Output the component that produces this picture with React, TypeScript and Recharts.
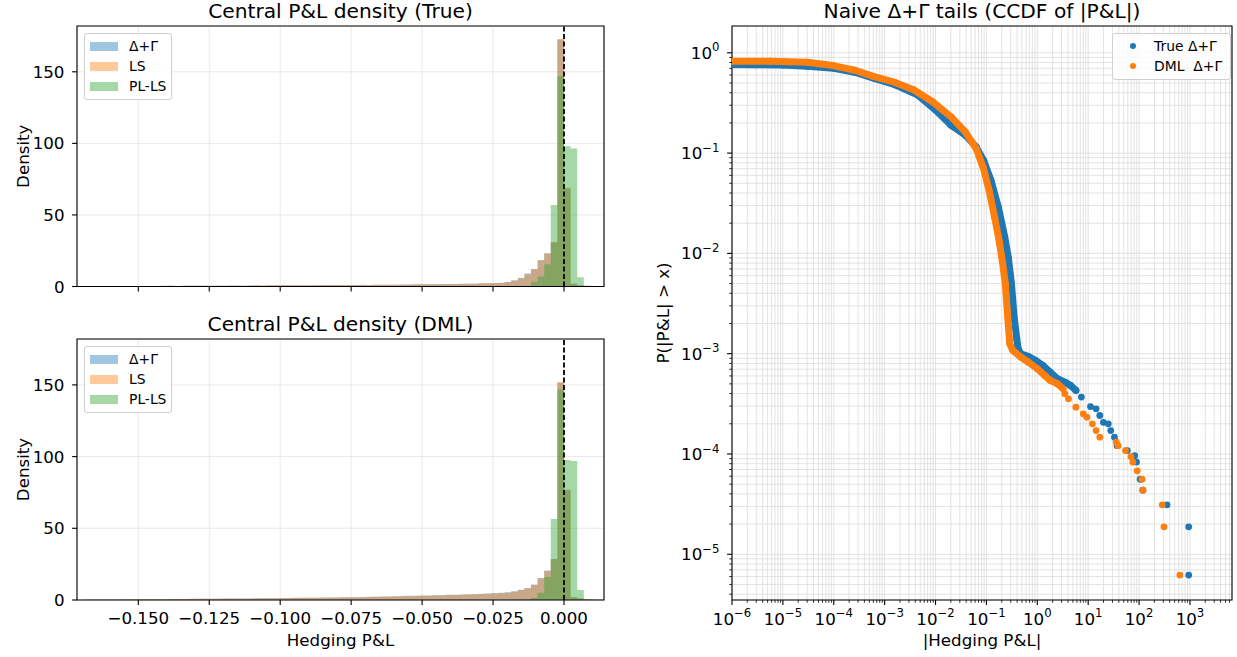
import React from "react";
import {
  Area,
  AreaChart,
  CartesianGrid,
  ReferenceArea,
  ReferenceLine,
  Scatter,
  ScatterChart,
  XAxis,
  YAxis,
} from "recharts";

const FONT = "'DejaVu Sans', 'Liberation Sans', sans-serif";
const BLUE = "#1f77b4";
const ORANGE = "#ff7f0e";
const GREEN = "#2ca02c";
const HIST_ALPHA = 0.42;

// histogram bins: bin k covers [k * BIN_W, (k + 1) * BIN_W]
const BIN_W = 0.002326;
const FIRST_BIN = -73;
const PLLS_FIRST_BIN = -8;

// densities, bins k = -73 .. 5
const TRUE_DG = [
  0.2, 0.2, 0.3, 0.3, 0.3, 0.3, 0.3, 0.4, 0.4, 0.3,
  0.4, 0.4, 0.5, 0.5, 0.4, 0.5, 0.5, 0.6, 0.6, 0.5,
  0.6, 0.6, 0.7, 0.7, 0.6, 0.7, 0.8, 0.7, 0.8, 0.8,
  0.8, 0.9, 0.9, 0.8, 0.9, 1.0, 1.0, 1.0, 1.0, 1.1,
  1.1, 1.1, 1.2, 1.1, 1.2, 1.3, 1.2, 1.3, 1.4, 1.4,
  1.5, 1.5, 1.6, 1.6, 1.7, 1.7, 1.8, 1.9, 1.9, 2.0,
  2.2, 2.2, 2.4,
  2.6, 3.2, 4.3, 5.9, 9.0, 12.3, 18.6, 23.2, 31.0, 172.5,
  68.5, 2.0, 0.9, 0.5, 0.3, 0.2,
];
const TRUE_LS = [
  0.2, 0.2, 0.3, 0.3, 0.2, 0.3, 0.3, 0.3, 0.4, 0.3,
  0.4, 0.4, 0.4, 0.5, 0.4, 0.5, 0.5, 0.5, 0.6, 0.5,
  0.6, 0.6, 0.6, 0.7, 0.6, 0.7, 0.7, 0.7, 0.8, 0.8,
  0.8, 0.8, 0.9, 0.8, 0.9, 0.9, 1.0, 0.9, 1.0, 1.0,
  1.0, 1.1, 1.1, 1.1, 1.2, 1.2, 1.2, 1.3, 1.3, 1.4,
  1.4, 1.5, 1.5, 1.6, 1.6, 1.7, 1.8, 1.8, 1.9, 2.0,
  2.1, 2.2, 2.3,
  2.5, 3.1, 4.0, 5.7, 8.5, 12.0, 18.0, 23.0, 31.0, 173.0,
  69.0, 2.0, 0.9, 0.5, 0.3, 0.2,
];
// PL-LS, bins k = -8 .. 5
const TRUE_PLLS = [0, 0, 0.5, 3.4, 6.9, 15.5, 57.0, 147.0, 98.0, 96.5, 6.4, 0.3, 0, 0];

const DML_DG = [
  0.2, 0.3, 0.3, 0.4, 0.4, 0.4, 0.5, 0.5, 0.5, 0.5,
  0.6, 0.6, 0.6, 0.7, 0.7, 0.7, 0.8, 0.8, 0.8, 0.9,
  0.9, 1.0, 1.0, 1.0, 1.1, 1.1, 1.2, 1.2, 1.3, 1.3,
  1.4, 1.4, 1.5, 1.5, 1.6, 1.6, 1.7, 1.8, 1.8, 1.9,
  2.0, 2.0, 2.1, 2.2, 2.3, 2.4, 2.5, 2.6, 2.8, 2.9,
  3.0, 3.1, 3.2, 3.3, 3.5, 3.6, 3.7, 3.9, 4.0, 4.2,
  4.4, 4.5, 4.8,
  5.0, 5.4, 6.1, 7.2, 8.4, 10.8, 15.3, 20.5, 28.6, 151.5,
  76.5, 2.0, 1.0, 0.5, 0.3, 0.2,
];
const DML_LS = [
  0.2, 0.3, 0.3, 0.3, 0.4, 0.4, 0.4, 0.5, 0.5, 0.5,
  0.5, 0.6, 0.6, 0.6, 0.7, 0.7, 0.7, 0.8, 0.8, 0.8,
  0.9, 0.9, 1.0, 1.0, 1.0, 1.1, 1.1, 1.2, 1.2, 1.3,
  1.3, 1.4, 1.4, 1.5, 1.5, 1.6, 1.6, 1.7, 1.8, 1.8,
  1.9, 2.0, 2.0, 2.1, 2.2, 2.3, 2.4, 2.5, 2.6, 2.7,
  2.8, 2.9, 3.0, 3.1, 3.2, 3.3, 3.5, 3.6, 3.8, 4.0,
  4.1, 4.3, 4.5,
  4.7, 5.1, 5.8, 7.0, 8.1, 10.5, 15.1, 20.2, 28.4, 152.0,
  77.0, 2.0, 1.0, 0.5, 0.3, 0.2,
];
const DML_PLLS = [0, 0, 0.3, 1.5, 5.0, 16.0, 56.4, 146.8, 97.6, 97.0, 7.0, 0.3, 0, 0];

const HIST_X_DOMAIN: [number, number] = [-0.1716, 0.0141];
const HIST_Y_DOMAIN: [number, number] = [0, 182];
const HIST_X_TICKS = [-0.15, -0.125, -0.1, -0.075, -0.05, -0.025, 0];
const HIST_Y_TICKS = [0, 50, 100, 150];

// CCDF of |P&L| : dense part (drawn as a thick band) and sparse tail points
const TRUE_DENSE_X = [
  1e-6, 3e-6, 1e-5, 3e-5, 1e-4, 2.6e-4, 6e-4, 1.6e-3, 4.4e-3, 0.01, 0.02, 0.0385,
  0.063, 0.088, 0.123, 0.172, 0.23, 0.27, 0.31, 0.35, 0.395, 0.42, 0.47, 0.66,
  0.92, 1.28, 1.79, 2.5, 3.48, 4.47, 5.73,
];
const TRUE_DENSE_Y = [
  0.764, 0.76, 0.755, 0.735, 0.7, 0.64, 0.56, 0.48, 0.381, 0.269, 0.19, 0.151,
  0.115, 0.0847, 0.0533, 0.0288, 0.0144, 0.009, 0.005, 0.00233, 0.0014, 0.00112, 0.001, 0.00094,
  0.000858, 0.000764, 0.000656, 0.000562, 0.000521, 0.000483, 0.00043,
];
const DML_DENSE_X = [
  1e-6, 5.7e-6, 3e-5, 9.7e-5, 2.6e-4, 6e-4, 1.6e-3, 3.7e-3, 8.6e-3, 0.02, 0.0385,
  0.063, 0.088, 0.113, 0.145, 0.178, 0.205, 0.235, 0.262, 0.287, 0.328, 0.473,
  0.66, 1.0, 1.39, 1.79, 2.5, 3.2,
];
const DML_DENSE_Y = [
  0.824, 0.824, 0.806, 0.746, 0.67, 0.582, 0.507, 0.428, 0.327, 0.231, 0.163,
  0.111, 0.0698, 0.0423, 0.0229, 0.0133, 0.0084, 0.005, 0.00233, 0.00126, 0.00108, 0.000926,
  0.000826, 0.000708, 0.000607, 0.000541, 0.0005, 0.000447,
];
const TRUE_TAIL_X = [7.35, 11.1, 14.3, 16.9, 19.9, 24.8, 27.8, 32.8, 36.9, 58.7, 81.9, 89, 105, 118, 354, 944, 944];
const TRUE_TAIL_Y = [
  3.69e-4, 2.97e-4, 2.82e-4, 2.42e-4, 2.07e-4, 2.0e-4, 1.71e-4, 1.47e-4, 1.21e-4,
  1.08e-4, 9.6e-5, 8.3e-5, 5.6e-5, 4.36e-5, 3.11e-5, 1.88e-5, 6.2e-6,
];
const DML_TAIL_X = [3.48, 4.1, 5.73, 8.0, 9.44, 12.1, 14.3, 16.9, 35.7, 38.8, 54, 69.4, 75.4, 92, 114, 120, 285, 309, 633];
const DML_TAIL_Y = [
  3.98e-4, 3.55e-4, 2.93e-4, 2.51e-4, 2.33e-4, 2.0e-4, 1.71e-4, 1.47e-4, 1.31e-4, 1.21e-4,
  1.08e-4, 9.4e-5, 8.3e-5, 6.8e-5, 5.6e-5, 4.36e-5, 3.11e-5, 1.88e-5, 6.2e-6,
];

const X_DECADES = [-6, -5, -4, -3, -2, -1, 0, 1, 2, 3];
const Y_DECADES = [-6, -5, -4, -3, -2, -1, 0];
const MINOR_STEPS = [1, 2, 3, 4, 5, 6, 7, 8, 9];
const LOG_X_DOMAIN: [number, number] = [1e-6, 6700];
const LOG_Y_DOMAIN: [number, number] = [3.5e-6, 1.85];

const logTicks = (decades: number[], [lo, hi]: [number, number]) =>
  decades
    .flatMap((d) => MINOR_STEPS.map((m) => m * Math.pow(10, d)))
    .filter((v) => v >= lo * 0.999 && v <= hi);

const zip = (xs: number[], ys: number[]) => xs.map((x, i) => ({ x, y: ys[i] }));

function buildHist(dg: number[], ls: number[], pl: number[]) {
  const rows = dg.map((_, i) => {
    const k = FIRST_BIN + i;
    return { x: k * BIN_W, dg: dg[i], ls: ls[i], pl: pl[k - PLLS_FIRST_BIN] ?? 0 };
  });
  const last = rows[rows.length - 1];
  rows.push({ ...last, x: (FIRST_BIN + dg.length) * BIN_W });
  return rows;
}

const isDecade = (v: number) => Math.abs(Math.log10(v) - Math.round(Math.log10(v))) < 1e-6;
const expText = (v: number) => {
  const e = Math.round(Math.log10(v));
  return e < 0 ? `\u2212${-e}` : `${e}`;
};

const TICK_FS = 16.7;
const SUP_FS = 11.7;
const LABEL_FS = 16.7;
const TITLE_FS = 20.2;
const LEGEND_FS = 13.9;
const MAJOR_LEN = 4.9;
const MINOR_LEN = 2.8;
const X_LABEL_DY = 23.5;
const Y_LABEL_DX = 12.5;

function HistXTick(props: any) {
  const { x, y, payload, showLabel } = props;
  const label = payload.value.toFixed(3).replace("-", "\u2212");
  return (
    <g>
      <line x1={x} x2={x} y1={y} y2={y + MAJOR_LEN} stroke="#000" strokeWidth={1.1} />
      {showLabel && (
        <text x={x} y={y + X_LABEL_DY} textAnchor="middle" fontSize={TICK_FS} fontFamily={FONT} fill="#000">
          {label}
        </text>
      )}
    </g>
  );
}

function HistYTick(props: any) {
  const { x, y, payload } = props;
  return (
    <g>
      <line x1={x - MAJOR_LEN} x2={x} y1={y} y2={y} stroke="#000" strokeWidth={1.1} />
      <text x={x - Y_LABEL_DX} y={y + 6.1} textAnchor="end" fontSize={TICK_FS} fontFamily={FONT} fill="#000">
        {String(payload.value)}
      </text>
    </g>
  );
}

function LogXTick(props: any) {
  const { x, y, payload } = props;
  const major = isDecade(payload.value);
  return (
    <g>
      <line x1={x} x2={x} y1={y} y2={y + (major ? MAJOR_LEN : MINOR_LEN)} stroke="#000" strokeWidth={major ? 1.1 : 0.8} />
      {major && (
        <text x={x} y={y + X_LABEL_DY + 1} textAnchor="middle" fontSize={TICK_FS} fontFamily={FONT} fill="#000">
          10
          <tspan dy={-7.5} fontSize={SUP_FS}>
            {expText(payload.value)}
          </tspan>
        </text>
      )}
    </g>
  );
}

function LogYTick(props: any) {
  const { x, y, payload } = props;
  const major = isDecade(payload.value);
  return (
    <g>
      <line x1={x - (major ? MAJOR_LEN : MINOR_LEN)} x2={x} y1={y} y2={y} stroke="#000" strokeWidth={major ? 1.1 : 0.8} />
      {major && (
        <text x={x - Y_LABEL_DX} y={y + 6.1} textAnchor="end" fontSize={TICK_FS} fontFamily={FONT} fill="#000">
          10
          <tspan dy={-7.5} fontSize={SUP_FS}>
            {expText(payload.value)}
          </tspan>
        </text>
      )}
    </g>
  );
}

function HistPanel({ rows, showXLabels, height, bottom }: { rows: any[]; showXLabels: boolean; height: number; bottom: number }) {
  return (
    <AreaChart width={620} height={height} data={rows} margin={{ top: 26, right: 16, bottom, left: 0 }}>
      <CartesianGrid stroke="#e3e3e3" strokeWidth={0.8} />
      <XAxis
        dataKey="x"
        type="number"
        domain={HIST_X_DOMAIN}
        allowDataOverflow
        ticks={HIST_X_TICKS}
        interval={0}
        height={30}
        tickSize={0}
        tickMargin={0}
        tickLine={false}
        axisLine={false}
        tick={(p: any) => <HistXTick {...p} showLabel={showXLabels} />}
      />
      <YAxis
        type="number"
        domain={HIST_Y_DOMAIN}
        allowDataOverflow
        ticks={HIST_Y_TICKS}
        interval={0}
        width={77}
        tickSize={0}
        tickMargin={0}
        tickLine={false}
        axisLine={false}
        tick={(p: any) => <HistYTick {...p} />}
      />
      <Area type="stepAfter" dataKey="dg" fill={BLUE} fillOpacity={HIST_ALPHA} stroke="none" dot={false} activeDot={false} isAnimationActive={false} />
      <Area type="stepAfter" dataKey="ls" fill={ORANGE} fillOpacity={HIST_ALPHA} stroke="none" dot={false} activeDot={false} isAnimationActive={false} />
      <Area type="stepAfter" dataKey="pl" fill={GREEN} fillOpacity={HIST_ALPHA} stroke="none" dot={false} activeDot={false} isAnimationActive={false} />
      <ReferenceLine x={0} stroke="#000" strokeWidth={1.8} strokeDasharray="5 2.5" />
      <ReferenceArea
        x1={HIST_X_DOMAIN[0]}
        x2={HIST_X_DOMAIN[1]}
        y1={HIST_Y_DOMAIN[0]}
        y2={HIST_Y_DOMAIN[1]}
        ifOverflow="visible"
        fill="none"
        fillOpacity={0}
        stroke="#000"
        strokeOpacity={1}
        strokeWidth={1.1}
      />
    </AreaChart>
  );
}

const dot = (color: string) => (p: any) => <circle cx={p.cx} cy={p.cy} r={3.4} fill={color} />;

function TailPanel() {
  const xTicks = logTicks(X_DECADES, LOG_X_DOMAIN);
  const yTicks = logTicks(Y_DECADES, LOG_Y_DOMAIN);
  return (
    <ScatterChart width={597} height={640} margin={{ top: 26, right: 5, bottom: 10, left: 0 }}>
      <CartesianGrid stroke="#dcdcdc" strokeWidth={0.8} />
      <XAxis
        dataKey="x"
        type="number"
        scale="log"
        domain={LOG_X_DOMAIN}
        allowDataOverflow
        ticks={xTicks}
        interval={0}
        height={30}
        tickSize={0}
        tickMargin={0}
        tickLine={false}
        axisLine={false}
        tick={(p: any) => <LogXTick {...p} />}
      />
      <YAxis
        dataKey="y"
        type="number"
        scale="log"
        domain={LOG_Y_DOMAIN}
        allowDataOverflow
        ticks={yTicks}
        interval={0}
        width={92}
        tickSize={0}
        tickMargin={0}
        tickLine={false}
        axisLine={false}
        tick={(p: any) => <LogYTick {...p} />}
      />
      <Scatter
        data={zip(TRUE_DENSE_X, TRUE_DENSE_Y)}
        fill={BLUE}
        line={{ stroke: BLUE, strokeWidth: 7, strokeLinejoin: "round", strokeLinecap: "round" }}
        lineJointType="linear"
        shape={dot(BLUE)}
        isAnimationActive={false}
      />
      <Scatter data={zip(TRUE_TAIL_X, TRUE_TAIL_Y)} fill={BLUE} shape={dot(BLUE)} isAnimationActive={false} />
      <Scatter
        data={zip(DML_DENSE_X, DML_DENSE_Y)}
        fill={ORANGE}
        line={{ stroke: ORANGE, strokeWidth: 7, strokeLinejoin: "round", strokeLinecap: "round" }}
        lineJointType="linear"
        shape={dot(ORANGE)}
        isAnimationActive={false}
      />
      <Scatter data={zip(DML_TAIL_X, DML_TAIL_Y)} fill={ORANGE} shape={dot(ORANGE)} isAnimationActive={false} />
      <ReferenceArea
        x1={LOG_X_DOMAIN[0]}
        x2={LOG_X_DOMAIN[1]}
        y1={LOG_Y_DOMAIN[0]}
        y2={LOG_Y_DOMAIN[1]}
        ifOverflow="visible"
        fill="none"
        fillOpacity={0}
        stroke="#000"
        strokeOpacity={1}
        strokeWidth={1.1}
      />
    </ScatterChart>
  );
}

const abs = (left: number, top: number): React.CSSProperties => ({ position: "absolute", left, top });

// titles and axis labels, placed by baseline
function Texts() {
  const t = { fontFamily: FONT, fill: "#000" };
  return (
    <svg width={1237} height={657} style={{ ...abs(0, 0), pointerEvents: "none" }}>
      <text {...t} x={340.5} y={17.7} fontSize={TITLE_FS} textAnchor="middle">Central P&amp;L density (True)</text>
      <text {...t} x={340.5} y={330.7} fontSize={TITLE_FS} textAnchor="middle">Central P&amp;L density (DML)</text>
      <text {...t} x={982} y={17.7} fontSize={TITLE_FS} textAnchor="middle" style={{ whiteSpace: "pre" }}>
        {"Naive \u0394+\u0393 tails (CCDF of |P&L|)"}
      </text>
      <text {...t} x={340.5} y={646} fontSize={LABEL_FS} textAnchor="middle">Hedging P&amp;L</text>
      <text {...t} x={982} y={646} fontSize={LABEL_FS} textAnchor="middle">|Hedging P&amp;L|</text>
      <text {...t} transform="translate(28.5,156.25) rotate(-90)" fontSize={LABEL_FS} textAnchor="middle">Density</text>
      <text {...t} transform="translate(28.5,469.5) rotate(-90)" fontSize={LABEL_FS} textAnchor="middle">Density</text>
      <text {...t} transform="translate(668.5,313) rotate(-90)" fontSize={LABEL_FS} textAnchor="middle">P(|P&amp;L| &gt; x)</text>
    </svg>
  );
}

const HIST_LEGEND = [
  { label: "\u0394+\u0393", color: BLUE },
  { label: "LS", color: ORANGE },
  { label: "PL-LS", color: GREEN },
];

function HistLegend({ top }: { top: number }) {
  return (
    <div
      style={{
        ...abs(84, top),
        width: 88,
        height: 67,
        boxSizing: "border-box",
        border: "1px solid #d0d0d0",
        borderRadius: 3,
        background: "rgba(255,255,255,0.8)",
      }}
    >
      {HIST_LEGEND.map((it, i) => (
        <div key={it.label} style={{ position: "absolute", left: 0, top: 3 + i * 20, height: 18, width: 86 }}>
          <div style={{ position: "absolute", left: 5, top: 4.5, width: 28, height: 9.5, background: it.color, opacity: HIST_ALPHA }} />
          <div style={{ position: "absolute", left: 44, top: 0, lineHeight: "18px", fontSize: LEGEND_FS }}>{it.label}</div>
        </div>
      ))}
    </div>
  );
}

const TAIL_LEGEND = [
  { label: "True \u0394+\u0393", color: BLUE },
  { label: "DML  \u0394+\u0393", color: ORANGE },
];

function TailLegend() {
  return (
    <div
      style={{
        ...abs(1112, 33),
        width: 119,
        height: 47,
        boxSizing: "border-box",
        border: "1px solid #d0d0d0",
        borderRadius: 3,
        background: "rgba(255,255,255,0.8)",
      }}
    >
      {TAIL_LEGEND.map((it, i) => (
        <div key={it.label} style={{ position: "absolute", left: 0, top: 3 + i * 20, height: 18, width: 117 }}>
          <div style={{ position: "absolute", left: 16.6, top: 5.6, width: 6.8, height: 6.8, borderRadius: "50%", background: it.color }} />
          <div style={{ position: "absolute", left: 41, top: 0, lineHeight: "18px", fontSize: LEGEND_FS, whiteSpace: "pre" }}>{it.label}</div>
        </div>
      ))}
    </div>
  );
}

export default function App() {
  const trueRows = buildHist(TRUE_DG, TRUE_LS, TRUE_PLLS);
  const dmlRows = buildHist(DML_DG, DML_LS, DML_PLLS);
  return (
    <div style={{ ...abs(0, 0), width: 1237, height: 657, background: "#fff", fontFamily: FONT, color: "#000", overflow: "hidden" }}>
      <div style={abs(0, 0)}>
        <HistPanel rows={trueRows} showXLabels={false} height={320} bottom={3.5} />
      </div>
      <div style={abs(0, 313)}>
        <HistPanel rows={dmlRows} showXLabels={true} height={340} bottom={23} />
      </div>
      <div style={abs(640, 0)}>
        <TailPanel />
      </div>
      <Texts />
      <HistLegend top={33} />
      <HistLegend top={346} />
      <TailLegend />
    </div>
  );
}
